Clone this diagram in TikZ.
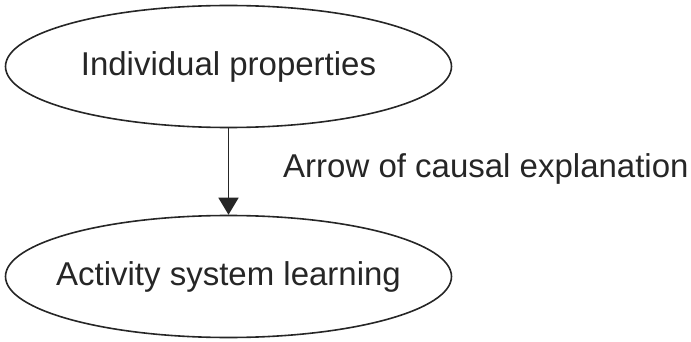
\documentclass[tikz,border=0pt]{standalone}
\usepackage{fontspec}
\setmainfont{Liberation Sans}
\usetikzlibrary{shapes.geometric,arrows.meta}
\begin{document}
\begin{tikzpicture}[x=1pt,y=-1pt,
  oval/.style={ellipse,draw=black!85,line width=1.6pt,inner sep=0pt,minimum width=446pt,minimum height=122pt},
  lbl/.style={font=\fontsize{33}{38}\selectfont,text=black!85,inner sep=0pt}]
\useasboundingbox (0,0) rectangle (691,342);
\node[oval] (top) at (228.5,66.5) {};
\node[lbl] (toptxt) at (top.center) {Individual properties};
\node[oval] (bot) at (228.5,276.5) {};
\node[lbl] (bottxt) at (bot.center) {Activity system learning};
\draw[line width=1.6pt,draw=black!85,-{Triangle[width=20pt,length=17pt]}] (top.south) -- (bot.north);
\node[lbl,anchor=base west] (cap) at (283,178) {Arrow of causal explanation};
\end{tikzpicture}
\end{document}
